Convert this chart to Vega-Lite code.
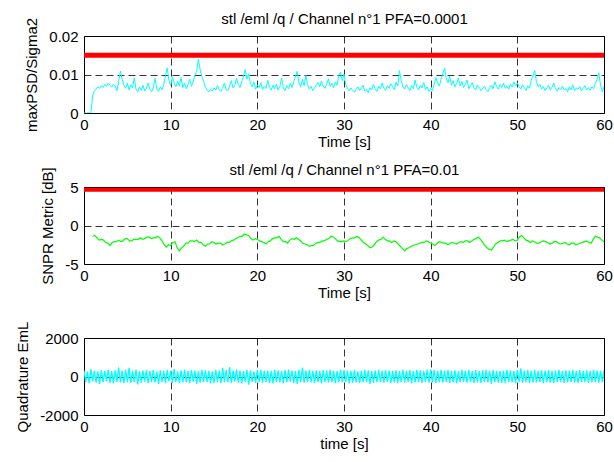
{
  "$schema": "https://vega.github.io/schema/vega-lite/v6.json",
  "padding": {"left": 15, "top": 10, "right": 0, "bottom": 0},
  "background": "white",
  "config": {
    "font": "Liberation Sans",
    "view": {"stroke": "black", "strokeWidth": 1},
    "axis": {
      "labelFont": "Liberation Sans", "labelFontSize": 15, "labelColor": "black",
      "titleFont": "Liberation Sans", "titleFontSize": 15, "titleFontWeight": "normal", "titleColor": "black",
      "domain": false, "ticks": false, "tickSize": 0,
      "grid": true, "gridColor": "black", "gridDash": [7, 4], "gridOpacity": 1, "gridWidth": 0.8,
      "labelExpr": "'' + datum.value"
    },
    "axisX": {"labelPadding": 4, "titlePadding": 2, "labelFlush": false},
    "axisY": {"labelPadding": 6, "titlePadding": 9}
  },
  "datasets": {
    "p1": [
      {"t":0,"v":0},{"t":0.2,"v":0},{"t":0.4,"v":0},{"t":0.6,"v":0},{"t":0.8,"v":0},{"t":1.0,"v":0.0045},{"t":1.2,"v":0.0058},{"t":1.4,"v":0.0062},{"t":1.6,"v":0.0068},{"t":1.8,"v":0.0064},
      {"t":2.0,"v":0.0071},{"t":2.2,"v":0.0066},{"t":2.4,"v":0.0074},{"t":2.6,"v":0.0069},{"t":2.8,"v":0.0078},{"t":3.0,"v":0.0072},{"t":3.2,"v":0.0067},{"t":3.4,"v":0.0075},{"t":3.6,"v":0.0070},{"t":3.8,"v":0.0058},
      {"t":4.0,"v":0.0082},{"t":4.2,"v":0.0109},{"t":4.4,"v":0.0088},{"t":4.6,"v":0.0072},{"t":4.8,"v":0.0064},{"t":5.0,"v":0.0078},{"t":5.2,"v":0.0060},{"t":5.4,"v":0.0073},{"t":5.6,"v":0.0066},{"t":5.8,"v":0.0091},
      {"t":6.0,"v":0.0062},{"t":6.2,"v":0.0055},{"t":6.4,"v":0.0068},{"t":6.6,"v":0.0059},{"t":6.8,"v":0.0072},{"t":7.0,"v":0.0057},{"t":7.2,"v":0.0064},{"t":7.4,"v":0.0078},{"t":7.6,"v":0.0061},{"t":7.8,"v":0.0055},
      {"t":8.0,"v":0.0066},{"t":8.2,"v":0.0090},{"t":8.4,"v":0.0062},{"t":8.6,"v":0.0056},{"t":8.8,"v":0.0068},{"t":9.0,"v":0.0060},{"t":9.2,"v":0.0074},{"t":9.4,"v":0.0097},{"t":9.6,"v":0.0117},{"t":9.8,"v":0.0085},
      {"t":10.0,"v":0.0072},{"t":10.2,"v":0.0094},{"t":10.4,"v":0.0078},{"t":10.6,"v":0.0068},{"t":10.8,"v":0.0083},{"t":11.0,"v":0.0070},{"t":11.2,"v":0.0092},{"t":11.4,"v":0.0066},{"t":11.6,"v":0.0078},{"t":11.8,"v":0.0063},
      {"t":12.0,"v":0.0074},{"t":12.2,"v":0.0088},{"t":12.4,"v":0.0069},{"t":12.6,"v":0.0081},{"t":12.8,"v":0.0098},{"t":13.0,"v":0.0108},{"t":13.2,"v":0.0140},{"t":13.4,"v":0.0112},{"t":13.6,"v":0.0095},{"t":13.8,"v":0.0082},
      {"t":14.0,"v":0.0068},{"t":14.2,"v":0.0060},{"t":14.4,"v":0.0055},{"t":14.6,"v":0.0062},{"t":14.8,"v":0.0057},{"t":15.0,"v":0.0066},{"t":15.2,"v":0.0059},{"t":15.4,"v":0.0071},{"t":15.6,"v":0.0061},{"t":15.8,"v":0.0056},
      {"t":16.0,"v":0.0064},{"t":16.2,"v":0.0078},{"t":16.4,"v":0.0060},{"t":16.6,"v":0.0058},{"t":16.8,"v":0.0070},{"t":17.0,"v":0.0084},{"t":17.2,"v":0.0065},{"t":17.4,"v":0.0072},{"t":17.6,"v":0.0090},{"t":17.8,"v":0.0074},
      {"t":18.0,"v":0.0066},{"t":18.2,"v":0.0082},{"t":18.4,"v":0.0095},{"t":18.6,"v":0.0113},{"t":18.8,"v":0.0088},{"t":19.0,"v":0.0102},{"t":19.2,"v":0.0076},{"t":19.4,"v":0.0068},{"t":19.6,"v":0.0081},{"t":19.8,"v":0.0062},
      {"t":20.0,"v":0.0073},{"t":20.2,"v":0.0066},{"t":20.4,"v":0.0079},{"t":20.6,"v":0.0061},{"t":20.8,"v":0.0070},{"t":21.0,"v":0.0064},{"t":21.2,"v":0.0085},{"t":21.4,"v":0.0068},{"t":21.6,"v":0.0059},{"t":21.8,"v":0.0072},
      {"t":22.0,"v":0.0063},{"t":22.2,"v":0.0075},{"t":22.4,"v":0.0060},{"t":22.6,"v":0.0069},{"t":22.8,"v":0.0091},{"t":23.0,"v":0.0065},{"t":23.2,"v":0.0058},{"t":23.4,"v":0.0071},{"t":23.6,"v":0.0063},{"t":23.8,"v":0.0077},
      {"t":24.0,"v":0.0066},{"t":24.2,"v":0.0082},{"t":24.4,"v":0.0094},{"t":24.6,"v":0.0108},{"t":24.8,"v":0.0079},{"t":25.0,"v":0.0067},{"t":25.2,"v":0.0088},{"t":25.4,"v":0.0071},{"t":25.6,"v":0.0097},{"t":25.8,"v":0.0074},
      {"t":26.0,"v":0.0062},{"t":26.2,"v":0.0069},{"t":26.4,"v":0.0058},{"t":26.6,"v":0.0065},{"t":26.8,"v":0.0072},{"t":27.0,"v":0.0079},{"t":27.2,"v":0.0068},{"t":27.4,"v":0.0083},{"t":27.6,"v":0.0070},{"t":27.8,"v":0.0064},
      {"t":28.0,"v":0.0075},{"t":28.2,"v":0.0089},{"t":28.4,"v":0.0069},{"t":28.6,"v":0.0077},{"t":28.8,"v":0.0066},{"t":29.0,"v":0.0081},{"t":29.2,"v":0.0072},{"t":29.4,"v":0.0098},{"t":29.6,"v":0.0106},{"t":29.8,"v":0.0084},
      {"t":30.0,"v":0.0101},{"t":30.2,"v":0.0074},{"t":30.4,"v":0.0063},{"t":30.6,"v":0.0057},{"t":30.8,"v":0.0065},{"t":31.0,"v":0.0059},{"t":31.2,"v":0.0054},{"t":31.4,"v":0.0062},{"t":31.6,"v":0.0068},{"t":31.8,"v":0.0058},
      {"t":32.0,"v":0.0064},{"t":32.2,"v":0.0072},{"t":32.4,"v":0.0057},{"t":32.6,"v":0.0061},{"t":32.8,"v":0.0053},{"t":33.0,"v":0.0066},{"t":33.2,"v":0.0060},{"t":33.4,"v":0.0074},{"t":33.6,"v":0.0063},{"t":33.8,"v":0.0056},
      {"t":34.0,"v":0.0069},{"t":34.2,"v":0.0062},{"t":34.4,"v":0.0078},{"t":34.6,"v":0.0065},{"t":34.8,"v":0.0059},{"t":35.0,"v":0.0071},{"t":35.2,"v":0.0064},{"t":35.4,"v":0.0076},{"t":35.6,"v":0.0068},{"t":35.8,"v":0.0061},
      {"t":36.0,"v":0.0080},{"t":36.2,"v":0.0070},{"t":36.4,"v":0.0110},{"t":36.6,"v":0.0085},{"t":36.8,"v":0.0068},{"t":37.0,"v":0.0062},{"t":37.2,"v":0.0074},{"t":37.4,"v":0.0066},{"t":37.6,"v":0.0058},{"t":37.8,"v":0.0071},
      {"t":38.0,"v":0.0063},{"t":38.2,"v":0.0086},{"t":38.4,"v":0.0067},{"t":38.6,"v":0.0060},{"t":38.8,"v":0.0072},{"t":39.0,"v":0.0065},{"t":39.2,"v":0.0079},{"t":39.4,"v":0.0061},{"t":39.6,"v":0.0068},{"t":39.8,"v":0.0056},
      {"t":40.0,"v":0.0064},{"t":40.2,"v":0.0058},{"t":40.4,"v":0.0075},{"t":40.6,"v":0.0092},{"t":40.8,"v":0.0078},{"t":41.0,"v":0.0070},{"t":41.2,"v":0.0088},{"t":41.4,"v":0.0102},{"t":41.6,"v":0.0117},{"t":41.8,"v":0.0090},
      {"t":42.0,"v":0.0079},{"t":42.2,"v":0.0095},{"t":42.4,"v":0.0072},{"t":42.6,"v":0.0084},{"t":42.8,"v":0.0068},{"t":43.0,"v":0.0077},{"t":43.2,"v":0.0091},{"t":43.4,"v":0.0070},{"t":43.6,"v":0.0082},{"t":43.8,"v":0.0066},
      {"t":44.0,"v":0.0074},{"t":44.2,"v":0.0086},{"t":44.4,"v":0.0063},{"t":44.6,"v":0.0071},{"t":44.8,"v":0.0079},{"t":45.0,"v":0.0065},{"t":45.2,"v":0.0060},{"t":45.4,"v":0.0073},{"t":45.6,"v":0.0067},{"t":45.8,"v":0.0058},
      {"t":46.0,"v":0.0064},{"t":46.2,"v":0.0070},{"t":46.4,"v":0.0061},{"t":46.6,"v":0.0055},{"t":46.8,"v":0.0066},{"t":47.0,"v":0.0072},{"t":47.2,"v":0.0063},{"t":47.4,"v":0.0081},{"t":47.6,"v":0.0069},{"t":47.8,"v":0.0062},
      {"t":48.0,"v":0.0074},{"t":48.2,"v":0.0066},{"t":48.4,"v":0.0078},{"t":48.6,"v":0.0064},{"t":48.8,"v":0.0071},{"t":49.0,"v":0.0062},{"t":49.2,"v":0.0075},{"t":49.4,"v":0.0067},{"t":49.6,"v":0.0081},{"t":49.8,"v":0.0070},
      {"t":50.0,"v":0.0078},{"t":50.2,"v":0.0068},{"t":50.4,"v":0.0062},{"t":50.6,"v":0.0073},{"t":50.8,"v":0.0066},{"t":51.0,"v":0.0059},{"t":51.2,"v":0.0071},{"t":51.4,"v":0.0064},{"t":51.6,"v":0.0085},{"t":51.8,"v":0.0096},
      {"t":52.0,"v":0.0111},{"t":52.2,"v":0.0082},{"t":52.4,"v":0.0068},{"t":52.6,"v":0.0074},{"t":52.8,"v":0.0062},{"t":53.0,"v":0.0069},{"t":53.2,"v":0.0058},{"t":53.4,"v":0.0065},{"t":53.6,"v":0.0072},{"t":53.8,"v":0.0060},
      {"t":54.0,"v":0.0067},{"t":54.2,"v":0.0078},{"t":54.4,"v":0.0063},{"t":54.6,"v":0.0057},{"t":54.8,"v":0.0066},{"t":55.0,"v":0.0061},{"t":55.2,"v":0.0070},{"t":55.4,"v":0.0059},{"t":55.6,"v":0.0064},{"t":55.8,"v":0.0055},
      {"t":56.0,"v":0.0068},{"t":56.2,"v":0.0060},{"t":56.4,"v":0.0073},{"t":56.6,"v":0.0058},{"t":56.8,"v":0.0065},{"t":57.0,"v":0.0062},{"t":57.2,"v":0.0069},{"t":57.4,"v":0.0057},{"t":57.6,"v":0.0064},{"t":57.8,"v":0.0071},
      {"t":58.0,"v":0.0060},{"t":58.2,"v":0.0066},{"t":58.4,"v":0.0059},{"t":58.6,"v":0.0068},{"t":58.8,"v":0.0063},{"t":59.0,"v":0.0076},{"t":59.2,"v":0.0088},{"t":59.4,"v":0.0104},{"t":59.6,"v":0.0072},{"t":59.8,"v":0.0055},
      {"t":60.0,"v":0.0068}
    ],
    "r1": [{"t":0,"v":0.015},{"t":60,"v":0.015}],
    "p2": [
      {"t":1.0,"v":-1.4},{"t":1.25,"v":-1.3},{"t":1.5,"v":-1.6},{"t":1.75,"v":-1.9},{"t":2.0,"v":-1.8},{"t":2.25,"v":-1.9},{"t":2.5,"v":-2.2},{"t":2.75,"v":-2.3},{"t":3.0,"v":-2.6},{"t":3.25,"v":-2.2},
      {"t":3.5,"v":-2.1},{"t":3.75,"v":-2.1},{"t":4.0,"v":-1.9},{"t":4.25,"v":-2.1},{"t":4.5,"v":-2.0},{"t":4.75,"v":-1.7},{"t":5.0,"v":-1.7},{"t":5.25,"v":-2.0},{"t":5.5,"v":-2.0},{"t":5.75,"v":-1.8},
      {"t":6.0,"v":-1.8},{"t":6.25,"v":-1.8},{"t":6.5,"v":-1.6},{"t":6.75,"v":-1.8},{"t":7.0,"v":-1.7},{"t":7.25,"v":-1.5},{"t":7.5,"v":-1.5},{"t":7.75,"v":-1.7},{"t":8.0,"v":-1.6},{"t":8.25,"v":-1.6},
      {"t":8.5,"v":-1.4},{"t":8.75,"v":-1.6},{"t":9.0,"v":-2.0},{"t":9.25,"v":-2.5},{"t":9.5,"v":-2.8},{"t":9.75,"v":-2.5},{"t":10.0,"v":-2.6},{"t":10.25,"v":-2.2},{"t":10.5,"v":-2.1},{"t":10.75,"v":-2.9},
      {"t":11.0,"v":-3.3},{"t":11.25,"v":-2.9},{"t":11.5,"v":-2.7},{"t":11.75,"v":-2.3},{"t":12.0,"v":-2.3},{"t":12.25,"v":-2.0},{"t":12.5,"v":-2.0},{"t":12.75,"v":-2.1},{"t":13.0,"v":-1.9},{"t":13.25,"v":-2.2},
      {"t":13.5,"v":-2.2},{"t":13.75,"v":-2.5},{"t":14.0,"v":-2.7},{"t":14.25,"v":-2.4},{"t":14.5,"v":-2.4},{"t":14.75,"v":-2.1},{"t":15.0,"v":-2.2},{"t":15.25,"v":-2.4},{"t":15.5,"v":-2.3},{"t":15.75,"v":-2.3},
      {"t":16.0,"v":-2.5},{"t":16.25,"v":-2.4},{"t":16.5,"v":-2.2},{"t":16.75,"v":-2.2},{"t":17.0,"v":-2.0},{"t":17.25,"v":-1.9},{"t":17.5,"v":-1.7},{"t":17.75,"v":-1.6},{"t":18.0,"v":-1.4},{"t":18.25,"v":-1.4},
      {"t":18.5,"v":-1.1},{"t":18.75,"v":-1.2},{"t":19.0,"v":-1.3},{"t":19.25,"v":-1.7},{"t":19.5,"v":-1.9},{"t":19.75,"v":-1.7},{"t":20.0,"v":-1.8},{"t":20.25,"v":-2.0},{"t":20.5,"v":-2.1},{"t":20.75,"v":-2.2},
      {"t":21.0,"v":-2.4},{"t":21.25,"v":-2.1},{"t":21.5,"v":-2.0},{"t":21.75,"v":-1.7},{"t":22.0,"v":-1.6},{"t":22.25,"v":-1.6},{"t":22.5,"v":-1.4},{"t":22.75,"v":-1.8},{"t":23.0,"v":-2.1},{"t":23.25,"v":-2.1},
      {"t":23.5,"v":-2.3},{"t":23.75,"v":-1.9},{"t":24.0,"v":-1.7},{"t":24.25,"v":-1.8},{"t":24.5,"v":-1.6},{"t":24.75,"v":-1.8},{"t":25.0,"v":-2.0},{"t":25.25,"v":-2.3},{"t":25.5,"v":-2.4},{"t":25.75,"v":-2.5},
      {"t":26.0,"v":-2.7},{"t":26.25,"v":-2.6},{"t":26.5,"v":-2.6},{"t":26.75,"v":-2.3},{"t":27.0,"v":-2.2},{"t":27.25,"v":-2.2},{"t":27.5,"v":-2.0},{"t":27.75,"v":-2.0},{"t":28.0,"v":-1.8},{"t":28.25,"v":-1.7},
      {"t":28.5,"v":-1.4},{"t":28.75,"v":-1.5},{"t":29.0,"v":-1.7},{"t":29.25,"v":-2.0},{"t":29.5,"v":-2.1},{"t":29.75,"v":-2.1},{"t":30.0,"v":-2.0},{"t":30.25,"v":-2.1},{"t":30.5,"v":-1.9},{"t":30.75,"v":-1.7},
      {"t":31.0,"v":-1.6},{"t":31.25,"v":-1.6},{"t":31.5,"v":-1.4},{"t":31.75,"v":-1.6},{"t":32.0,"v":-1.9},{"t":32.25,"v":-2.2},{"t":32.5,"v":-2.4},{"t":32.75,"v":-2.6},{"t":33.0,"v":-2.9},{"t":33.25,"v":-2.8},
      {"t":33.5,"v":-2.5},{"t":33.75,"v":-2.1},{"t":34.0,"v":-1.9},{"t":34.25,"v":-1.8},{"t":34.5,"v":-1.5},{"t":34.75,"v":-1.8},{"t":35.0,"v":-2.0},{"t":35.25,"v":-2.0},{"t":35.5,"v":-2.2},{"t":35.75,"v":-2.0},
      {"t":36.0,"v":-2.1},{"t":36.25,"v":-2.4},{"t":36.5,"v":-2.7},{"t":36.75,"v":-3.0},{"t":37.0,"v":-3.3},{"t":37.25,"v":-3.0},{"t":37.5,"v":-2.9},{"t":37.75,"v":-2.7},{"t":38.0,"v":-2.6},{"t":38.25,"v":-2.5},
      {"t":38.5,"v":-2.4},{"t":38.75,"v":-2.3},{"t":39.0,"v":-2.2},{"t":39.25,"v":-2.2},{"t":39.5,"v":-2.0},{"t":39.75,"v":-2.1},{"t":40.0,"v":-2.3},{"t":40.25,"v":-2.4},{"t":40.5,"v":-2.6},{"t":40.75,"v":-2.3},
      {"t":41.0,"v":-2.1},{"t":41.25,"v":-2.2},{"t":41.5,"v":-2.3},{"t":41.75,"v":-2.3},{"t":42.0,"v":-2.5},{"t":42.25,"v":-2.3},{"t":42.5,"v":-2.2},{"t":42.75,"v":-2.3},{"t":43.0,"v":-2.4},{"t":43.25,"v":-2.2},
      {"t":43.5,"v":-2.1},{"t":43.75,"v":-2.2},{"t":44.0,"v":-2.0},{"t":44.25,"v":-2.0},{"t":44.5,"v":-2.2},{"t":44.75,"v":-2.0},{"t":45.0,"v":-1.8},{"t":45.25,"v":-1.7},{"t":45.5,"v":-1.5},{"t":45.75,"v":-1.8},
      {"t":46.0,"v":-2.2},{"t":46.25,"v":-2.6},{"t":46.5,"v":-2.9},{"t":46.75,"v":-3.1},{"t":47.0,"v":-3.2},{"t":47.25,"v":-2.8},{"t":47.5,"v":-2.4},{"t":47.75,"v":-2.2},{"t":48.0,"v":-2.0},{"t":48.25,"v":-2.0},
      {"t":48.5,"v":-1.9},{"t":48.75,"v":-2.1},{"t":49.0,"v":-2.0},{"t":49.25,"v":-1.9},{"t":49.5,"v":-1.8},{"t":49.75,"v":-2.0},{"t":50.0,"v":-1.9},{"t":50.25,"v":-1.5},{"t":50.5,"v":-1.3},{"t":50.75,"v":-1.6},
      {"t":51.0,"v":-1.9},{"t":51.25,"v":-2.0},{"t":51.5,"v":-2.2},{"t":51.75,"v":-2.0},{"t":52.0,"v":-2.1},{"t":52.25,"v":-2.3},{"t":52.5,"v":-2.3},{"t":52.75,"v":-2.1},{"t":53.0,"v":-2.0},{"t":53.25,"v":-2.1},
      {"t":53.5,"v":-2.2},{"t":53.75,"v":-2.4},{"t":54.0,"v":-2.3},{"t":54.25,"v":-2.1},{"t":54.5,"v":-2.1},{"t":54.75,"v":-2.3},{"t":55.0,"v":-2.4},{"t":55.25,"v":-2.3},{"t":55.5,"v":-2.2},{"t":55.75,"v":-2.4},
      {"t":56.0,"v":-2.5},{"t":56.25,"v":-2.3},{"t":56.5,"v":-2.3},{"t":56.75,"v":-2.5},{"t":57.0,"v":-2.4},{"t":57.25,"v":-2.3},{"t":57.5,"v":-2.2},{"t":57.75,"v":-2.1},{"t":58.0,"v":-2.0},{"t":58.25,"v":-2.2},
      {"t":58.5,"v":-2.3},{"t":58.75,"v":-1.8},{"t":59.0,"v":-1.4},{"t":59.25,"v":-1.5},{"t":59.5,"v":-1.6},{"t":59.75,"v":-1.9},{"t":60.0,"v":-2.1}
    ],
    "r2": [{"t":0,"v":4.65},{"t":60,"v":4.65}],
    "p3": [
      {"t":0,"q":310},{"t":0.2,"q":-290},{"t":0.4,"q":250},{"t":0.6,"q":-340},{"t":0.8,"q":380},{"t":1.0,"q":-260},{"t":1.2,"q":300},{"t":1.4,"q":-320},{"t":1.6,"q":270},{"t":1.8,"q":-380},
      {"t":2.0,"q":330},{"t":2.2,"q":-300},{"t":2.4,"q":290},{"t":2.6,"q":-250},{"t":2.8,"q":350},{"t":3.0,"q":-330},{"t":3.2,"q":280},{"t":3.4,"q":-360},{"t":3.6,"q":320},{"t":3.8,"q":-280},
      {"t":4.0,"q":470},{"t":4.2,"q":-310},{"t":4.4,"q":300},{"t":4.6,"q":-350},{"t":4.8,"q":340},{"t":5.0,"q":-290},{"t":5.2,"q":450},{"t":5.4,"q":-330},{"t":5.6,"q":290},{"t":5.8,"q":-300},
      {"t":6.0,"q":360},{"t":6.2,"q":-410},{"t":6.4,"q":280},{"t":6.6,"q":-320},{"t":6.8,"q":310},{"t":7.0,"q":-270},{"t":7.2,"q":330},{"t":7.4,"q":-350},{"t":7.6,"q":300},{"t":7.8,"q":-290},
      {"t":8.0,"q":340},{"t":8.2,"q":-310},{"t":8.4,"q":260},{"t":8.6,"q":-380},{"t":8.8,"q":320},{"t":9.0,"q":-300},{"t":9.2,"q":290},{"t":9.4,"q":-340},{"t":9.6,"q":350},{"t":9.8,"q":-260},
      {"t":10.0,"q":300},{"t":10.2,"q":-330},{"t":10.4,"q":380},{"t":10.6,"q":-290},{"t":10.8,"q":270},{"t":11.0,"q":-350},{"t":11.2,"q":320},{"t":11.4,"q":-310},{"t":11.6,"q":360},{"t":11.8,"q":-300},
      {"t":12.0,"q":290},{"t":12.2,"q":-340},{"t":12.4,"q":330},{"t":12.6,"q":-270},{"t":12.8,"q":310},{"t":13.0,"q":-390},{"t":13.2,"q":280},{"t":13.4,"q":-320},{"t":13.6,"q":350},{"t":13.8,"q":-300},
      {"t":14.0,"q":320},{"t":14.2,"q":-280},{"t":14.4,"q":300},{"t":14.6,"q":-360},{"t":14.8,"q":270},{"t":15.0,"q":-330},{"t":15.2,"q":340},{"t":15.4,"q":-300},{"t":15.6,"q":310},{"t":15.8,"q":-350},
      {"t":16.0,"q":450},{"t":16.2,"q":-290},{"t":16.4,"q":330},{"t":16.6,"q":-310},{"t":16.8,"q":490},{"t":17.0,"q":-340},{"t":17.2,"q":300},{"t":17.4,"q":-270},{"t":17.6,"q":360},{"t":17.8,"q":-320},
      {"t":18.0,"q":310},{"t":18.2,"q":-360},{"t":18.4,"q":280},{"t":18.6,"q":-300},{"t":18.8,"q":340},{"t":19.0,"q":-420},{"t":19.2,"q":320},{"t":19.4,"q":-290},{"t":19.6,"q":270},{"t":19.8,"q":-330},
      {"t":20.0,"q":330},{"t":20.2,"q":-300},{"t":20.4,"q":350},{"t":20.6,"q":-320},{"t":20.8,"q":290},{"t":21.0,"q":-280},{"t":21.2,"q":310},{"t":21.4,"q":-340},{"t":21.6,"q":300},{"t":21.8,"q":-360},
      {"t":22.0,"q":340},{"t":22.2,"q":-290},{"t":22.4,"q":320},{"t":22.6,"q":-310},{"t":22.8,"q":280},{"t":23.0,"q":-350},{"t":23.2,"q":330},{"t":23.4,"q":-300},{"t":23.6,"q":360},{"t":23.8,"q":-270},
      {"t":24.0,"q":300},{"t":24.2,"q":-330},{"t":24.4,"q":290},{"t":24.6,"q":-380},{"t":24.8,"q":340},{"t":25.0,"q":-300},{"t":25.2,"q":460},{"t":25.4,"q":-320},{"t":25.6,"q":310},{"t":25.8,"q":-290},
      {"t":26.0,"q":350},{"t":26.2,"q":-310},{"t":26.4,"q":280},{"t":26.6,"q":-340},{"t":26.8,"q":320},{"t":27.0,"q":-300},{"t":27.2,"q":300},{"t":27.4,"q":-360},{"t":27.6,"q":330},{"t":27.8,"q":-280},
      {"t":28.0,"q":310},{"t":28.2,"q":-320},{"t":28.4,"q":340},{"t":28.6,"q":-290},{"t":28.8,"q":300},{"t":29.0,"q":-350},{"t":29.2,"q":280},{"t":29.4,"q":-310},{"t":29.6,"q":350},{"t":29.8,"q":-300},
      {"t":30.0,"q":330},{"t":30.2,"q":-280},{"t":30.4,"q":310},{"t":30.6,"q":-360},{"t":30.8,"q":290},{"t":31.0,"q":-320},{"t":31.2,"q":340},{"t":31.4,"q":-300},{"t":31.6,"q":270},{"t":31.8,"q":-340},
      {"t":32.0,"q":300},{"t":32.2,"q":-310},{"t":32.4,"q":350},{"t":32.6,"q":-290},{"t":32.8,"q":320},{"t":33.0,"q":-390},{"t":33.2,"q":280},{"t":33.4,"q":-330},{"t":33.6,"q":310},{"t":33.8,"q":-300},
      {"t":34.0,"q":340},{"t":34.2,"q":-300},{"t":34.4,"q":290},{"t":34.6,"q":-320},{"t":34.8,"q":330},{"t":35.0,"q":-280},{"t":35.2,"q":310},{"t":35.4,"q":-350},{"t":35.6,"q":300},{"t":35.8,"q":-310},
      {"t":36.0,"q":320},{"t":36.2,"q":-340},{"t":36.4,"q":280},{"t":36.6,"q":-300},{"t":36.8,"q":350},{"t":37.0,"q":-310},{"t":37.2,"q":300},{"t":37.4,"q":-290},{"t":37.6,"q":330},{"t":37.8,"q":-360},
      {"t":38.0,"q":290},{"t":38.2,"q":-310},{"t":38.4,"q":340},{"t":38.6,"q":-300},{"t":38.8,"q":320},{"t":39.0,"q":-330},{"t":39.2,"q":300},{"t":39.4,"q":-280},{"t":39.6,"q":360},{"t":39.8,"q":-320},
      {"t":40.0,"q":370},{"t":40.2,"q":-310},{"t":40.4,"q":330},{"t":40.6,"q":-350},{"t":40.8,"q":300},{"t":41.0,"q":-290},{"t":41.2,"q":340},{"t":41.4,"q":-320},{"t":41.6,"q":310},{"t":41.8,"q":-300},
      {"t":42.0,"q":350},{"t":42.2,"q":-330},{"t":42.4,"q":290},{"t":42.6,"q":-310},{"t":42.8,"q":320},{"t":43.0,"q":-360},{"t":43.2,"q":280},{"t":43.4,"q":-300},{"t":43.6,"q":340},{"t":43.8,"q":-290},
      {"t":44.0,"q":310},{"t":44.2,"q":-320},{"t":44.4,"q":350},{"t":44.6,"q":-300},{"t":44.8,"q":290},{"t":45.0,"q":-340},{"t":45.2,"q":330},{"t":45.4,"q":-310},{"t":45.6,"q":300},{"t":45.8,"q":-330},
      {"t":46.0,"q":320},{"t":46.2,"q":-290},{"t":46.4,"q":340},{"t":46.6,"q":-310},{"t":46.8,"q":300},{"t":47.0,"q":-380},{"t":47.2,"q":330},{"t":47.4,"q":-300},{"t":47.6,"q":290},{"t":47.8,"q":-320},
      {"t":48.0,"q":300},{"t":48.2,"q":-330},{"t":48.4,"q":310},{"t":48.6,"q":-350},{"t":48.8,"q":340},{"t":49.0,"q":-290},{"t":49.2,"q":320},{"t":49.4,"q":-310},{"t":49.6,"q":280},{"t":49.8,"q":-340},
      {"t":50.0,"q":330},{"t":50.2,"q":-300},{"t":50.4,"q":420},{"t":50.6,"q":-320},{"t":50.8,"q":310},{"t":51.0,"q":-290},{"t":51.2,"q":350},{"t":51.4,"q":-330},{"t":51.6,"q":300},{"t":51.8,"q":-310},
      {"t":52.0,"q":340},{"t":52.2,"q":-310},{"t":52.4,"q":290},{"t":52.6,"q":-300},{"t":52.8,"q":320},{"t":53.0,"q":-350},{"t":53.2,"q":310},{"t":53.4,"q":-290},{"t":53.6,"q":330},{"t":53.8,"q":-320},
      {"t":54.0,"q":300},{"t":54.2,"q":-340},{"t":54.4,"q":310},{"t":54.6,"q":-290},{"t":54.8,"q":350},{"t":55.0,"q":-300},{"t":55.2,"q":280},{"t":55.4,"q":-330},{"t":55.6,"q":320},{"t":55.8,"q":-310},
      {"t":56.0,"q":310},{"t":56.2,"q":-300},{"t":56.4,"q":340},{"t":56.6,"q":-320},{"t":56.8,"q":290},{"t":57.0,"q":-350},{"t":57.2,"q":330},{"t":57.4,"q":-300},{"t":57.6,"q":300},{"t":57.8,"q":-290},
      {"t":58.0,"q":320},{"t":58.2,"q":-330},{"t":58.4,"q":300},{"t":58.6,"q":-310},{"t":58.8,"q":340},{"t":59.0,"q":-290},{"t":59.2,"q":310},{"t":59.4,"q":-320},{"t":59.6,"q":290},{"t":59.8,"q":-300},
      {"t":60.0,"q":310}
    ]
  },
  "bounds": "flush",
  "spacing": 74,
  "vconcat": [
    {
      "width": 520, "height": 77,
      "resolve": {"axis": {"x": "independent"}},
      "layer": [
        {
          "data": {"name": "p1"},
          "mark": {"type": "line", "color": "#00ffff", "strokeWidth": 1, "clip": true},
          "encoding": {
            "x": {"field": "t", "type": "quantitative", "scale": {"domain": [0, 60], "nice": false}, "axis": {"title": "Time [s]", "values": [0,10,20,30,40,50,60]}},
            "y": {"field": "v", "type": "quantitative", "scale": {"domain": [0, 0.02], "nice": false, "zero": false}, "axis": {"title": "maxPSD/Sigma2", "values": [0, 0.01, 0.02]}}
          }
        },
        {
          "data": {"name": "r1"},
          "mark": {"type": "line", "color": "#ff0000", "strokeWidth": 5, "strokeCap": "butt", "clip": true},
          "encoding": {
            "x": {"field": "t", "type": "quantitative", "axis": {"orient": "top", "title": "stl /eml /q / Channel n°1 PFA=0.0001", "labels": false, "grid": false, "domain": false, "ticks": false, "titlePadding": 10}},
            "y": {"field": "v", "type": "quantitative", "axis": {"title": "maxPSD/Sigma2", "values": [0, 0.01, 0.02]}}
          }
        }
      ]
    },
    {
      "width": 520, "height": 77,
      "resolve": {"axis": {"x": "independent"}},
      "layer": [
        {
          "data": {"name": "p2"},
          "mark": {"type": "line", "color": "#00ff00", "strokeWidth": 1.2, "clip": true},
          "encoding": {
            "x": {"field": "t", "type": "quantitative", "scale": {"domain": [0, 60], "nice": false}, "axis": {"title": "Time [s]", "values": [0,10,20,30,40,50,60]}},
            "y": {"field": "v", "type": "quantitative", "scale": {"domain": [-5, 5], "nice": false, "zero": false}, "axis": {"title": "SNPR Metric [dB]", "values": [-5, 0, 5]}}
          }
        },
        {
          "data": {"name": "r2"},
          "mark": {"type": "line", "color": "#ff0000", "strokeWidth": 4, "strokeCap": "butt", "clip": true},
          "encoding": {
            "x": {"field": "t", "type": "quantitative", "axis": {"orient": "top", "title": "stl /eml /q / Channel n°1 PFA=0.01", "labels": false, "grid": false, "domain": false, "ticks": false, "titlePadding": 10}},
            "y": {"field": "v", "type": "quantitative", "axis": {"title": "SNPR Metric [dB]", "values": [-5, 0, 5]}}
          }
        }
      ]
    },
    {
      "width": 520, "height": 77,
      "data": {"name": "p3"},
      "mark": {"type": "line", "color": "#00ffff", "strokeWidth": 1.3, "clip": true},
      "encoding": {
        "x": {"field": "t", "type": "quantitative", "scale": {"domain": [0, 60], "nice": false}, "axis": {"title": "time [s]", "values": [0,10,20,30,40,50,60]}},
        "y": {"field": "q", "type": "quantitative", "scale": {"domain": [-2000, 2000], "nice": false, "zero": false}, "axis": {"title": "Quadrature EmL", "values": [-2000, 0, 2000]}}
      }
    }
  ]
}
